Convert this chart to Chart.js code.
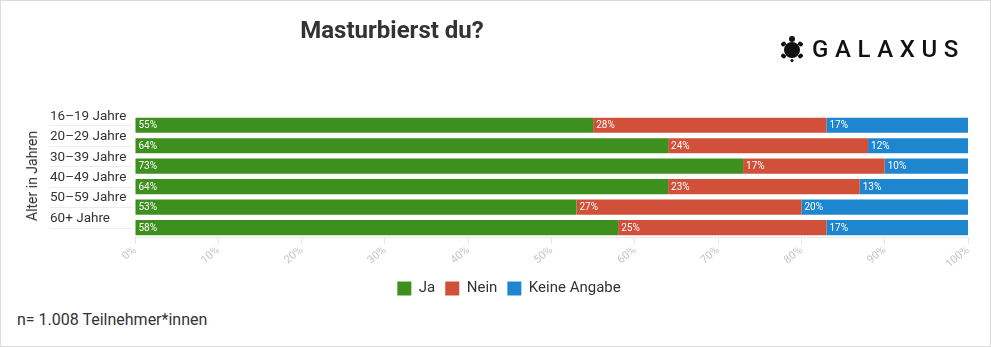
<!DOCTYPE html>
<html>
<head>
<meta charset="utf-8">
<script src="https://cdn.jsdelivr.net/npm/chart.js@4/dist/chart.umd.min.js"></script>
<style>
  html, body { margin:0; padding:0; background:#fff; }
  body { width:991px; height:347px; position:relative; overflow:hidden; font-family:Roboto, "Noto Sans", sans-serif; }
  #frame { position:absolute; left:0; top:0; width:989px; height:345px; border:1px solid #dcdcdc; }
  #wrap { position:absolute; left:0; top:0; width:991px; height:307px; }
  #title { position:absolute; top:16px; left:242px; width:300px; text-align:center; font-size:24px; font-weight:bold; color:#333; }
  #logo { position:absolute; top:34px; left:779px; height:30px; display:flex; align-items:center; }
  #logo span { font-size:24px; font-weight:500; letter-spacing:6.6px; color:#111; margin-left:7px; }
  #ytitle { position:absolute; left:32px; top:176px; transform:translate(-50%,-50%) rotate(-90deg); white-space:nowrap; font-size:14px; color:#333; }
  #note { position:absolute; left:17px; top:310px; font-size:16px; color:#333; }
</style>
</head>
<body>
<div id="frame"></div>
<div id="wrap"><canvas id="c"></canvas></div>
<div id="title">Masturbierst du?</div>
<div id="ytitle">Alter in Jahren</div>
<div id="logo">
  <svg width="26" height="30" viewBox="0 0 26 30">
    <circle cx="13" cy="16" r="8" fill="#111"/>
    <circle cx="13" cy="5" r="3" fill="#111"/>
    <rect x="2" y="8" width="5" height="4" rx="1.5" fill="#111" transform="rotate(-35 4.5 10)"/>
    <rect x="19" y="8" width="5" height="4" rx="1.5" fill="#111" transform="rotate(35 21.5 10)"/>
    <rect x="2" y="20" width="5" height="4" rx="1.5" fill="#111" transform="rotate(35 4.5 22)"/>
    <rect x="19" y="20" width="5" height="4" rx="1.5" fill="#111" transform="rotate(-35 21.5 22)"/>
    <circle cx="13" cy="26.5" r="1.6" fill="#111"/>
  </svg>
  <span>GALAXUS</span>
</div>
<div id="note">n= 1.008 Teilnehmer*innen</div>
<script>
const categories = ["16–19 Jahre", "20–29 Jahre", "30–39 Jahre", "40–49 Jahre", "50–59 Jahre", "60+ Jahre"];
const seriesNames = ["Ja", "Nein", "Keine Angabe"];
const ja = [55, 64, 73, 64, 53, 58];
const nein = [28, 24, 17, 23, 27, 25];
const keineAngabe = [17, 12, 10, 13, 20, 17];
const xTicks = [0, 10, 20, 30, 40, 50, 60, 70, 80, 90, 100];
const colors = ["#3d8f1e", "#d1503a", "#1e86cf"];

const labelPlugin = {
  id: 'segLabels',
  afterDatasetsDraw(chart) {
    const ctx = chart.ctx;
    ctx.save();
    ctx.font = '10px Roboto';
    ctx.fillStyle = '#fff';
    ctx.textBaseline = 'middle';
    ctx.textAlign = 'left';
    chart.data.datasets.forEach((ds, i) => {
      const meta = chart.getDatasetMeta(i);
      meta.data.forEach((bar, j) => {
        const left = Math.min(bar.x, bar.base);
        ctx.fillText(ds.data[j] + '%', left + 3, bar.y + 0.5);
      });
    });
    ctx.restore();
  }
};

const rowLinePlugin = {
  id: 'rowLines',
  beforeDatasetsDraw(chart) {
    const ctx = chart.ctx;
    const ys = chart.scales.y;
    ctx.save();
    ctx.strokeStyle = '#ececec';
    ctx.lineWidth = 1;
    categories.forEach((c, i) => {
      const y = Math.round(ys.getPixelForTick(i)) + 0.5;
      ctx.beginPath();
      ctx.moveTo(ys.left, y);
      ctx.lineTo(chart.chartArea.left - 2, y);
      ctx.stroke();
    });
    ctx.restore();
  }
};

new Chart(document.getElementById('c'), {
  type: 'bar',
  data: {
    labels: categories,
    datasets: [
      { label: seriesNames[0], data: ja, backgroundColor: colors[0] },
      { label: seriesNames[1], data: nein, backgroundColor: colors[1] },
      { label: seriesNames[2], data: keineAngabe, backgroundColor: colors[2] }
    ]
  },
  options: {
    indexAxis: 'y',
    responsive: true,
    maintainAspectRatio: false,
    animation: false,
    layout: { padding: { left: 50, right: 23, top: 115, bottom: 1 } },
    datasets: { bar: { barPercentage: 0.74, categoryPercentage: 1 } },
    scales: {
      x: {
        stacked: true,
        min: 0, max: 100,
        afterBuildTicks(scale) { scale.ticks = xTicks.map(v => ({ value: v })); },
        ticks: {
          color: '#c4c4c4',
          font: { size: 11, family: 'Roboto' },
          minRotation: 40, maxRotation: 40,
          padding: 0,
          callback: v => v + '%'
        },
        grid: { drawOnChartArea: false, tickLength: 6, color: '#e6e6e6' },
        border: { color: '#e6e6e6' }
      },
      y: {
        stacked: true,
        afterFit(scale) { scale.width = 85; },
        ticks: {
          color: '#333',
          font: { size: 13.5, family: 'Roboto' },
          crossAlign: 'far',
          labelOffset: -9,
          padding: 8
        },
        grid: { display: false },
        border: { display: false }
      }
    },
    plugins: {
      legend: {
        position: 'bottom',
        labels: {
          boxWidth: 14, boxHeight: 14, padding: 10,
          color: '#333', font: { size: 15, family: 'Roboto' }
        }
      },
      tooltip: { enabled: false }
    }
  },
  plugins: [labelPlugin, rowLinePlugin]
});
</script>
</body>
</html>
